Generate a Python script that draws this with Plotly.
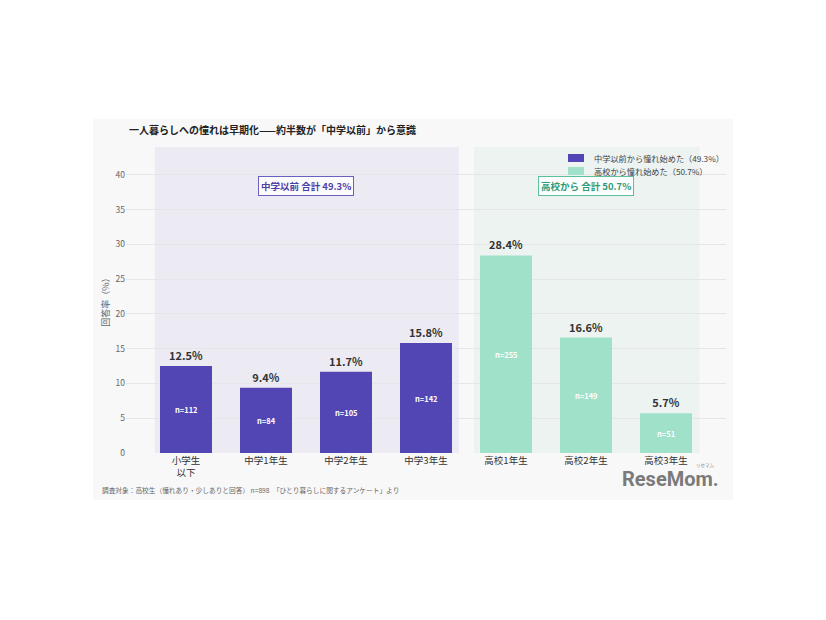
import plotly.graph_objects as go

categories = ["小学生<br>以下", "中学1年生", "中学2年生", "中学3年生", "高校1年生", "高校2年生", "高校3年生"]
early_cats = categories[:4]
early_vals = [12.5, 9.4, 11.7, 15.8]
early_n = [112, 84, 105, 142]
high_cats = categories[4:]
high_vals = [28.4, 16.6, 5.7]
high_n = [255, 149, 51]
y_ticks = [0, 5, 10, 15, 20, 25, 30, 35, 40]
legend_names = ["中学以前から憧れ始めた（49.3%）", "高校から憧れ始めた（50.7%）"]

PURPLE = "#5146b4"
GREEN = "#a0e1c9"
FONT = "Noto Sans CJK JP"


def px(x):
    return (x - 126) / 600


def py(y):
    return (453 - y) / 306


fig = go.Figure()
fig.add_trace(go.Bar(
    x=early_cats, y=early_vals, name=legend_names[0],
    marker=dict(color=PURPLE, line=dict(width=0)), width=0.65,
    text=[f"{v:.1f}%" for v in early_vals], textposition="outside",
    textfont=dict(size=11, color="#333333", family=FONT, weight="bold"),
    cliponaxis=False,
))
fig.add_trace(go.Bar(
    x=high_cats, y=high_vals, name=legend_names[1],
    marker=dict(color=GREEN, line=dict(width=0)), width=0.65,
    text=[f"{v:.1f}%" for v in high_vals], textposition="outside",
    textfont=dict(size=11, color="#333333", family=FONT, weight="bold"),
    cliponaxis=False,
))

annotations = []
# n labels inside bars
for c, v, n in list(zip(early_cats, early_vals, early_n)) + list(zip(high_cats, high_vals, high_n)):
    annotations.append(dict(x=c, y=v / 2, xref="x", yref="y", text=f"n={n}", showarrow=False,
                            font=dict(size=7.5, color="white", family=FONT, weight="bold")))

shapes = [
    # whole chart card background
    dict(type="rect", xref="paper", yref="paper", x0=px(93), x1=px(733), y0=py(500), y1=py(119),
         fillcolor="#f8f8f9", line=dict(width=0), layer="below"),
    dict(type="rect", xref="x", yref="paper", x0=-0.39, x1=3.41, y0=0, y1=1,
         fillcolor="rgba(81,70,180,0.07)", line=dict(width=0), layer="below"),
    dict(type="rect", xref="x", yref="paper", x0=3.6, x1=6.42, y0=0, y1=1,
         fillcolor="rgba(100,190,150,0.08)", line=dict(width=0), layer="below"),
    # manual legend swatches
    dict(type="rect", xref="paper", yref="paper", x0=px(568), x1=px(584), y0=py(162), y1=py(154),
         fillcolor=PURPLE, line=dict(width=0)),
    dict(type="rect", xref="paper", yref="paper", x0=px(568), x1=px(584), y0=py(175), y1=py(167),
         fillcolor=GREEN, line=dict(width=0)),
]

annotations += [
    dict(xref="paper", yref="paper", x=px(592), y=py(158), xanchor="left", yanchor="middle",
         text=legend_names[0], showarrow=False, font=dict(size=8.2, color="#444444", family=FONT)),
    dict(xref="paper", yref="paper", x=px(592), y=py(171), xanchor="left", yanchor="middle",
         text=legend_names[1], showarrow=False, font=dict(size=8.2, color="#444444", family=FONT)),
    dict(xref="paper", yref="paper", x=px(127), y=py(129), xanchor="left", yanchor="middle",
         text="一人暮らしへの憧れは早期化——約半数が「中学以前」から意識", showarrow=False,
         font=dict(size=10, color="#222222", family=FONT, weight="bold")),
    dict(x=1.5, y=38.4, xref="x", yref="y", text="中学以前 合計 49.3%", showarrow=False,
         font=dict(size=9.5, color="#4b40a8", family=FONT, weight="bold"),
         bgcolor="rgba(255,255,255,0.85)", bordercolor="#6a60c0", borderwidth=1, borderpad=2),
    dict(x=5.0, y=38.4, xref="x", yref="y", text="高校から 合計 50.7%", showarrow=False,
         font=dict(size=9.5, color="#2f9a74", family=FONT, weight="bold"),
         bgcolor="rgba(255,255,255,0.85)", bordercolor="#5cc09c", borderwidth=1, borderpad=2),
    dict(xref="paper", yref="paper", x=px(100), y=py(490), xanchor="left", yanchor="middle",
         text="調査対象：高校生（憧れあり・少しありと回答） n=898　「ひとり暮らしに関するアンケート」より",
         showarrow=False, font=dict(size=6.7, color="#666666", family=FONT)),
    dict(xref="paper", yref="paper", x=px(721), y=py(479), xanchor="right", yanchor="middle",
         text="ReseMom.", showarrow=False,
         font=dict(size=20, color="#7a7a7a", family="Roboto", weight="bold")),
    dict(xref="paper", yref="paper", x=px(717), y=py(465), xanchor="right", yanchor="middle",
         text="リセマム", showarrow=False, font=dict(size=4.5, color="#888888", family=FONT)),
]

fig.update_layout(
    width=826, height=620,
    margin=dict(l=118, r=108, t=139, b=175),
    paper_bgcolor="white", plot_bgcolor="rgba(0,0,0,0)",
    barmode="overlay", bargap=0.35,
    font=dict(family=FONT, color="#444444"),
    shapes=shapes, annotations=annotations,
    showlegend=False,
    xaxis=dict(type="category", categoryorder="array", categoryarray=categories,
               range=[-0.75, 6.75], showgrid=False, zeroline=False, showline=False,
               ticks="", automargin=False,
               tickfont=dict(size=9.5, color="#333333", family=FONT)),
    yaxis=dict(range=[0, 44], tickvals=y_ticks, showgrid=True, gridcolor="#e6e6ea", gridwidth=1,
               zeroline=False, showline=False, ticks="", automargin=False,
               tickfont=dict(size=8.5, color="#666666", family=FONT),
               title=dict(text="回答率（%）", font=dict(size=9, color="#666666", family=FONT),
                          standoff=4)),
)

fig.write_html("out.html")
